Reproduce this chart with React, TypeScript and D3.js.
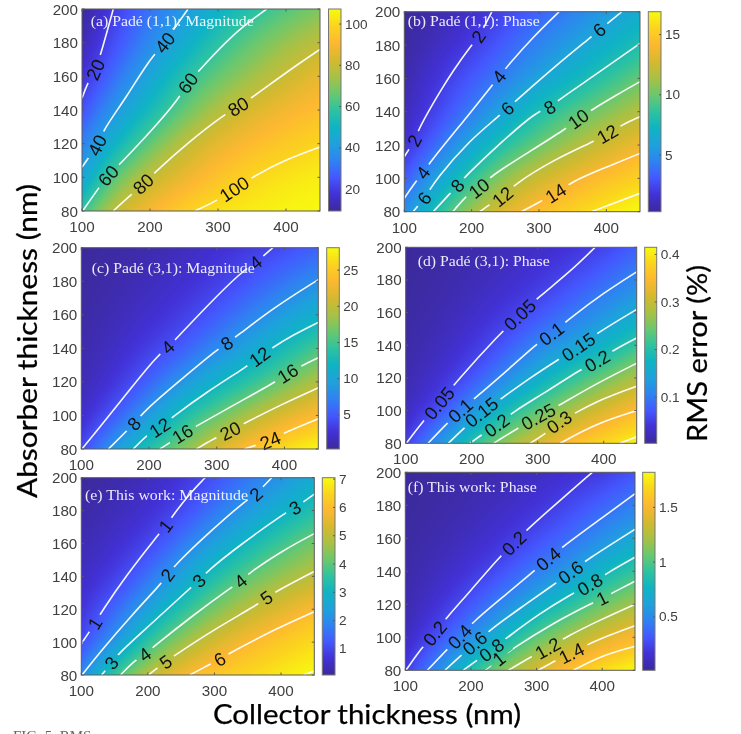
import React, { useMemo } from "react";
import * as d3 from "d3";

type Pt = [number, number];
type Contour = [number, Pt[]];
type Label = [string, number, number];

const xTicks = [100, 200, 300, 400];
const yTicks = [80, 100, 120, 140, 160, 180, 200];

const parulaStops = ["#3c2a9c", "#4231d6", "#4458ff", "#2f83f2", "#1ea2dc", "#0fb4c4", "#2ec3a0", "#6ac86e", "#a9c145", "#d5b92f", "#fdb831", "#fbd41e", "#f8fb0f"];

// ---------- (a)
const aGrid = [
  [9.4, 20.7, 31, 39, 49, 56.5, 63.5, 69],
  [12.5, 24, 35, 46, 58, 66, 73, 78.5],
  [17.5, 30, 44, 57, 66, 73, 81, 87],
  [23.5, 39.5, 52, 65, 76.5, 84.5, 89.5, 93],
  [33.5, 49, 66, 79, 87, 92, 96, 99.5],
  [42, 67, 80, 87, 94, 100, 103, 105],
  [59, 81, 90, 98, 102.5, 104.5, 106, 107],
];
const aContours: Contour[] = [
  [20, [[100, 147], [108, 156], [120, 164], [129, 175], [146, 200]]],
  [40, [[100, 106], [112, 113], [122.5, 119], [131, 128], [166, 148], [197.5, 169], [222, 180], [234, 187.5], [256, 200]]],
  [60, [[101, 80], [125, 94], [138.7, 101], [156, 108], [205, 129], [239, 145], [256, 156], [273.5, 164], [322.6, 185.5], [371.5, 200]]],
  [80, [[146, 80], [173, 90], [190, 96], [210, 104], [254, 120], [308, 137], [330, 142], [352, 148], [406, 164], [450, 176]]],
  [100, [[266, 80], [298, 86], [324, 93], [350, 100], [396, 110], [450, 118]]],
];
const aLabels: Label[] = [["20", 120, 164], ["40", 122.5, 119], ["40", 222, 180], ["60", 138.7, 101], ["60", 256, 156], ["80", 190, 96], ["80", 330, 142], ["100", 324, 93]];

// ---------- (b)
const bGrid = [
  [0.3, 0.8, 1.4, 2.4, 3.4, 4.4, 5.5, 6.6],
  [0.4, 1.1, 2, 3.3, 4.5, 5.7, 6.9, 8],
  [0.7, 1.9, 3.1, 4.3, 5.9, 7.2, 8.5, 9.9],
  [1, 2.3, 4.1, 6.2, 8.1, 9.4, 10.6, 11.7],
  [1.5, 3.6, 6.4, 8.3, 9.9, 11.4, 12.6, 13.7],
  [3.1, 6.1, 8.6, 11.1, 12.7, 13.7, 14.7, 15.4],
  [5, 8.3, 11.4, 13.2, 14.6, 15.4, 16.3, 16.9],
];
const bContours: Contour[] = [
  [2, [[100, 113], [115, 122.6], [121, 129], [135.6, 140], [153, 152], [173, 165], [200, 180], [210, 185], [220, 192], [230, 200]]],
  [4, [[100, 88], [113, 96], [128, 103.4], [140.6, 111], [197.5, 139], [227, 154], [240.6, 161], [254.5, 168], [291.6, 185], [330, 200]]],
  [6, [[113, 80], [130, 88], [148, 100], [197.5, 123], [239.6, 137], [253, 142], [267, 147], [326, 168], [378, 185], [389.6, 189], [405, 194], [423, 200]]],
  [8, [[143, 80], [168, 91], [179, 95.6], [190, 101], [242, 121], [296, 140], [316, 142.6], [328.7, 147], [390.6, 164], [450, 181]]],
  [10, [[172, 80], [195, 91], [211, 94], [227, 101], [281.7, 115], [341, 130], [358.4, 135.6], [378, 141], [415, 150], [450, 158]]],
  [12, [[212, 80], [229, 85], [246, 89], [262, 96], [321, 111], [380.7, 122], [401.5, 126.6], [423, 132], [450, 137]]],
  [14, [[274, 80], [301.5, 86], [325, 91], [348.5, 98], [395.5, 106], [450, 115]]],
  [16, [[378, 80], [450, 91]]],
];
const bLabels: Label[] = [["2", 115, 122.6], ["2", 210, 185], ["4", 128, 103.4], ["4", 240.6, 161], ["6", 130, 88], ["6", 253, 142], ["6", 389.6, 189], ["8", 179, 95.6], ["8", 316, 142.6], ["10", 211, 94], ["10", 358.4, 135.6], ["12", 246, 89], ["12", 401.5, 126.6], ["14", 325, 91]];

// ---------- (c)
const cGrid = [
  [0.3, 0.6, 1, 1.6, 2.4, 3.2, 4.2, 5.5],
  [0.4, 0.9, 1.5, 2.3, 3.2, 4.8, 6.4, 8],
  [0.6, 1.3, 2.2, 3.3, 5, 7.2, 9.3, 11.3],
  [0.9, 1.9, 3.3, 5, 7.7, 10, 12.7, 15.2],
  [1.2, 2.6, 5.3, 8.7, 11.5, 14, 16.6, 19.3],
  [1.9, 4.8, 9, 13.2, 16.3, 19.2, 22, 23.8],
  [4, 9.1, 13.7, 17.4, 21.3, 24.4, 26.5, 28],
];
const cContours: Contour[] = [
  [4, [[101, 80], [127.5, 93], [176.7, 118], [211, 135], [228, 140.6], [240.6, 146], [285, 165], [336.5, 185.7], [357.6, 191], [383, 200]]],
  [8, [[140, 80], [178, 95], [196, 104], [255, 124], [299.6, 139], [315, 143], [329, 147], [383, 164], [450, 181]]],
  [12, [[176.7, 80], [201, 90], [216, 92.7], [231, 98], [285, 114], [344, 129], [363.5, 135], [380.7, 140], [412.7, 148], [450, 155.5]]],
  [16, [[216, 80], [235.7, 85], [249.5, 89], [267.6, 93], [324, 106], [383, 119], [405, 125], [422.5, 129], [450, 134.4]]],
  [20, [[270, 80], [295, 86], [320, 90.7], [344, 96], [398, 107], [450, 116.5]]],
  [24, [[341, 80], [379, 85], [403, 90.3], [450, 98]]],
];
const cLabels: Label[] = [["4", 228, 140.6], ["4", 357.6, 191], ["8", 178, 95], ["8", 315, 143], ["12", 216, 92.7], ["12", 363.5, 135], ["16", 249.5, 89], ["16", 405, 125], ["20", 320, 90.7], ["24", 379, 85]];

// ---------- (d)
const dGrid = [
  [0.003, 0.006, 0.012, 0.02, 0.028, 0.038, 0.054, 0.078],
  [0.004, 0.009, 0.018, 0.028, 0.04, 0.06, 0.084, 0.11],
  [0.006, 0.014, 0.027, 0.042, 0.066, 0.092, 0.124, 0.155],
  [0.009, 0.021, 0.04, 0.069, 0.107, 0.14, 0.168, 0.21],
  [0.014, 0.032, 0.063, 0.108, 0.163, 0.207, 0.245, 0.285],
  [0.022, 0.054, 0.123, 0.187, 0.235, 0.28, 0.318, 0.352],
  [0.05, 0.126, 0.204, 0.267, 0.313, 0.358, 0.385, 0.41],
];
const dContours: Contour[] = [
  [0.05, [[101, 80], [125, 93], [151, 104.5], [175, 117], [243, 147.3], [273, 158.6], [301, 169.4], [349, 185], [387, 200]]],
  [0.1, [[134, 80], [159.6, 91], [183, 100], [207.6, 108.6], [258, 126], [298.5, 141], [321, 147], [349, 156.5], [399.5, 172], [450, 185]]],
  [0.15, [[164.6, 80], [185, 88], [215, 99], [245.5, 107.5], [288, 120], [334, 132], [361.6, 139], [389.4, 147.3], [450, 162]]],
  [0.2, [[197.5, 80], [217.6, 86], [238, 91], [263, 99.4], [313.6, 111.6], [364, 125], [390.4, 130.4], [414.6, 137], [450, 144.5]]],
  [0.25, [[232.8, 80], [273, 90], [301, 96.3], [329, 102.4], [389.4, 116.7], [450, 129]]],
  [0.3, [[288.4, 80], [308.6, 85], [332.8, 93], [354, 98], [399.5, 107.6], [450, 115]]],
  [0.35, [[334, 80], [389.4, 92.3], [450, 100]]],
  [0.4, [[424.7, 80], [450, 84]]],
];
const dLabels: Label[] = [["0.05", 151, 104.5], ["0.05", 273, 158.6], ["0.1", 183, 100], ["0.1", 321, 147], ["0.15", 215, 99], ["0.15", 361.6, 139], ["0.2", 238, 91], ["0.2", 390.4, 130.4], ["0.25", 301, 96.3], ["0.3", 332.8, 93]];

// ---------- (e)
const eGrid = [
  [0.08, 0.22, 0.4, 0.7, 1.15, 1.65, 2.15, 2.7],
  [0.17, 0.35, 0.6, 0.95, 1.6, 2.25, 2.8, 3.35],
  [0.3, 0.55, 0.9, 1.65, 2.4, 3.1, 3.75, 4.3],
  [0.45, 0.8, 1.55, 2.45, 3.35, 4.05, 4.55, 4.95],
  [0.7, 1.4, 2.4, 3.4, 4.3, 4.95, 5.5, 5.97],
  [1, 2, 3.6, 4.6, 5.4, 5.95, 6.3, 6.6],
  [1.95, 3.7, 5, 5.8, 6.25, 6.5, 6.8, 7.05],
];
const eContours: Contour[] = [
  [1, [[100, 99], [120.5, 111.4], [130.5, 118.5], [168, 140.8], [213, 164], [226.7, 170.6], [235.7, 176], [263, 190.5], [286, 200]]],
  [2, [[101, 80], [128, 94], [178, 117.4], [218, 134.7], [229.7, 140.8], [240.7, 147], [298, 169], [348, 186.4], [362.4, 190], [386, 200]]],
  [3, [[130.5, 80], [145.6, 87.4], [155.6, 93], [203, 110.3], [263, 132.7], [276.8, 137.3], [288, 142.8], [338, 159], [408.5, 179.3], [421, 181.7], [431, 184.4], [450, 190]]],
  [4, [[159, 80], [180.6, 89], [195.6, 92.5], [208, 97], [268, 116.4], [323.3, 132.7], [339.4, 137], [351, 141.8], [403.5, 156], [450, 166]]],
  [5, [[200.6, 80], [226.7, 88], [240.7, 92], [298, 107.3], [363.4, 122.5], [378.4, 127], [396, 131.6], [450, 143]]],
  [6, [[263, 80], [290.8, 86], [308, 89.5], [325.8, 94], [393.4, 108.3], [450, 118.5]]],
  [7, [[433.5, 80], [450, 82.4]]],
];
const eLabels: Label[] = [["1", 120.5, 111.4], ["1", 226.7, 170.6], ["2", 229.7, 140.8], ["2", 362.4, 190], ["3", 145.6, 87.4], ["3", 276.8, 137.3], ["3", 421, 181.7], ["4", 195.6, 92.5], ["4", 339.4, 137], ["5", 226.7, 88], ["5", 378.4, 127], ["6", 308, 89.5]];

// ---------- (f)
const fGrid = [
  [0.012, 0.025, 0.045, 0.07, 0.11, 0.15, 0.2, 0.3],
  [0.016, 0.035, 0.07, 0.11, 0.16, 0.25, 0.35, 0.45],
  [0.025, 0.06, 0.11, 0.17, 0.27, 0.37, 0.52, 0.66],
  [0.04, 0.1, 0.17, 0.28, 0.43, 0.56, 0.78, 0.93],
  [0.06, 0.15, 0.3, 0.47, 0.69, 0.88, 1.07, 1.2],
  [0.09, 0.26, 0.5, 0.76, 1.04, 1.22, 1.4, 1.53],
  [0.2, 0.52, 0.87, 1.16, 1.39, 1.58, 1.71, 1.81],
];
const fContours: Contour[] = [
  [0.2, [[101, 80], [125, 93.7], [145, 102.4], [164, 112.5], [198.5, 127.7], [241.7, 148], [265.6, 157], [287.4, 166], [330.6, 181.2], [385, 200]]],
  [0.4, [[133.5, 80], [160.4, 91.3], [183, 100.4], [203.6, 109.5], [249.3, 124.6], [295, 139.8], [318, 147.5], [343.3, 156], [391.5, 170], [450, 187]]],
  [0.6, [[160.4, 80], [183, 88.3], [206, 96.4], [229, 104.4], [274.7, 117.6], [325.5, 131.7], [352, 139.4], [376.3, 147], [450, 165.5]]],
  [0.8, [[188.4, 80], [211, 86.7], [231.5, 92.3], [257, 100.4], [305, 114.5], [351, 125.7], [381.4, 132], [409.3, 139.4], [450, 148.5]]],
  [1, [[221.4, 80], [243, 86.9], [264.5, 93.3], [320.4, 107.5], [384, 120.6], [400, 123.6], [414.4, 126.7], [450, 134]]],
  [1.2, [[257, 80], [295, 89], [317, 93.3], [345.8, 100.4], [396.6, 110.5], [450, 120]]],
  [1.4, [[302.6, 80], [330.6, 86.3], [353.4, 90.3], [376.3, 95.4], [411.8, 101.4], [450, 107]]],
  [1.6, [[356, 80], [401.7, 89.3], [450, 94.5]]],
];
const fLabels: Label[] = [["0.2", 145, 102.4], ["0.2", 265.6, 157], ["0.4", 183, 100.4], ["0.4", 318, 147.5], ["0.6", 206, 96.4], ["0.6", 352, 139.4], ["0.8", 231.5, 92.3], ["0.8", 381.4, 132], ["1", 243, 86.9], ["1", 400, 123.6], ["1.2", 317, 93.3], ["1.4", 353.4, 90.3]];

const colorbarTicks = [
  [20, 40, 60, 80, 100],
  [5, 10, 15],
  [5, 10, 15, 20, 25],
  [0.1, 0.2, 0.3, 0.4],
  [1, 2, 3, 4, 5, 6, 7],
  [0.5, 1, 1.5],
];
const colorRanges: Pt[] = [[9.4, 107.3], [0.3, 16.9], [0.3, 28.1], [0.003, 0.415], [0.08, 7.05], [0.012, 1.82]];
const titles = ["(a) Padé (1,1): Magnitude", "(b) Padé (1,1): Phase", "(c) Padé (3,1): Magnitude", "(d) Padé (3,1): Phase", "(e) This work: Magnitude", "(f) This work: Phase"];
const grids = [aGrid, bGrid, cGrid, dGrid, eGrid, fGrid];
const contours = [aContours, bContours, cContours, dContours, eContours, fContours];
const labels = [aLabels, bLabels, cLabels, dLabels, eLabels, fLabels];

// Layout in pixels: plot box, colorbar box, title placement
const layout = [
  { l: 82, r: 320, t: 9, b: 211, cl: 328.5, cr: 341, tx: 90.7, ty: 26, tw: 163 },
  { l: 404.3, r: 640, t: 11.7, b: 211.7, cl: 648.3, cr: 661, tx: 407.7, ty: 26, tw: 132 },
  { l: 81.3, r: 318.3, t: 247.7, b: 449, cl: 326.7, cr: 339.3, tx: 91.7, ty: 272.7, tw: 163 },
  { l: 405.7, r: 636.7, t: 247.3, b: 443.3, cl: 644.7, cr: 656.7, tx: 417.7, ty: 265.7, tw: 132 },
  { l: 81.3, r: 314.3, t: 477.7, b: 675, cl: 322.3, cr: 335, tx: 85, ty: 500, tw: 163 },
  { l: 405.3, r: 635, t: 472.3, b: 670.3, cl: 642.7, cr: 655, tx: 407.7, ty: 492.3, tw: 129 },
];

const colorT = d3.scaleLinear<string>()
  .domain(parulaStops.map((_, i) => i / (parulaStops.length - 1)))
  .range(parulaStops)
  .interpolate(d3.interpolateRgb);

function heatURL(grid: number[][], w: number, h: number, range: Pt) {
  const c = document.createElement("canvas");
  c.width = w; c.height = h;
  const ctx = c.getContext("2d")!;
  const img = ctx.createImageData(w, h);
  const st = d3.scaleLinear().domain(range).range([0, 1]).clamp(true);
  const rows = grid.map((r) => d3.interpolateBasis(r));
  for (let px = 0; px < w; px++) {
    const tx = (px + 0.5) / w;
    const col = d3.interpolateBasis(rows.map((f) => f(tx)));
    for (let py = 0; py < h; py++) {
      const rgb = d3.rgb(colorT(st(col((py + 0.5) / h))));
      const k = (py * w + px) * 4;
      img.data[k] = rgb.r; img.data[k + 1] = rgb.g; img.data[k + 2] = rgb.b; img.data[k + 3] = 255;
    }
  }
  ctx.putImageData(img, 0, 0);
  return c.toDataURL();
}

function cbarURL(h: number) {
  const c = document.createElement("canvas");
  c.width = 1; c.height = h;
  const ctx = c.getContext("2d")!;
  for (let py = 0; py < h; py++) {
    ctx.fillStyle = colorT(1 - (py + 0.5) / h);
    ctx.fillRect(0, py, 1, 1);
  }
  return c.toDataURL();
}

function labelAngle(pts: Pt[], x: number, y: number, sx: (v: number) => number, sy: (v: number) => number) {
  let best = 0, bestD = Infinity;
  pts.forEach((p, i) => {
    const d = Math.hypot(sx(p[0]) - sx(x), sy(p[1]) - sy(y));
    if (d < bestD) { bestD = d; best = i; }
  });
  const a = pts[Math.max(0, best - 1)], b = pts[Math.min(pts.length - 1, best + 1)];
  return (Math.atan2(sy(b[1]) - sy(a[1]), sx(b[0]) - sx(a[0])) * 180) / Math.PI;
}

const GRAY = "#404040";
const BOX = "#5a5a5a";

function Panel({ index }: { index: number }) {
  const g = layout[index];
  const x = d3.scaleLinear().domain([100, 450]).range([g.l, g.r]);
  const y = d3.scaleLinear().domain([80, 200]).range([g.b, g.t]);
  const cs = d3.scaleLinear().domain(colorRanges[index]).range([g.b, g.t]);
  const w = Math.round(g.r - g.l), h = Math.round(g.b - g.t);
  const heat = useMemo(() => heatURL(grids[index], w, h, colorRanges[index]), [index, w, h]);
  const bar = useMemo(() => cbarURL(h), [h]);
  const line = d3.line<Pt>().x((d) => x(d[0])).y((d) => y(d[1])).curve(d3.curveBasis);
  const maskId = `gaps${index}`;
  const clipId = `clip${index}`;
  const fs = 18.5;
  const placed = labels[index].map(([text, lx, ly]) => {
    const level = +text;
    const entry = contours[index].find((c) => c[0] === level)!;
    const angle = labelAngle(entry[1], lx, ly, x, y);
    const len = text.length * fs * 0.556 - (text.includes(".") ? fs * 0.278 : 0);
    return { text, px: x(lx), py: y(ly), angle, len };
  });
  return (
    <g>
      <defs>
        <clipPath id={clipId}><rect x={g.l} y={g.t} width={g.r - g.l} height={g.b - g.t} /></clipPath>
        <mask id={maskId} maskUnits="userSpaceOnUse" x={g.l - 2} y={g.t - 2} width={g.r - g.l + 4} height={g.b - g.t + 4}>
          <rect x={g.l - 2} y={g.t - 2} width={g.r - g.l + 4} height={g.b - g.t + 4} fill="#fff" />
          {placed.map((p, i) => (
            <rect key={i} x={-p.len / 2 - 5} y={-12} width={p.len + 10} height={24} fill="#000"
              transform={`translate(${p.px},${p.py}) rotate(${p.angle})`} />
          ))}
        </mask>
      </defs>
      <image href={heat} x={g.l} y={g.t} width={g.r - g.l} height={g.b - g.t} preserveAspectRatio="none" />
      <g clipPath={`url(#${clipId})`}>
        <g mask={`url(#${maskId})`}>
          {contours[index].map(([lev, pts]) => (
            <path key={lev} d={line(pts)!} fill="none" stroke="#fff" strokeWidth={1.6} opacity={0.95} />
          ))}
        </g>
      </g>
      {placed.map((p, i) => (
        <text key={i} transform={`translate(${p.px},${p.py}) rotate(${p.angle})`} textAnchor="middle" dominantBaseline="central"
          fontFamily="'Liberation Sans'" fontSize={fs} fill="#111">{p.text}</text>
      ))}
      <text x={g.tx} y={g.ty} fontFamily="'Liberation Serif'" fontSize={14.5} fill="#fff" fillOpacity={0.9} textLength={g.tw} lengthAdjust="spacingAndGlyphs">{titles[index]}</text>
      <rect x={g.l} y={g.t} width={g.r - g.l} height={g.b - g.t} fill="none" stroke={BOX} strokeWidth={1} />
      {xTicks.map((t) => (
        <g key={t}>
          <line x1={x(t)} x2={x(t)} y1={g.b} y2={g.b - 2.5} stroke={BOX} />
          <line x1={x(t)} x2={x(t)} y1={g.t} y2={g.t + 2.5} stroke={BOX} />
          <text x={x(t)} y={g.b + 15.5} textAnchor="middle" dominantBaseline="central" fontFamily="'Liberation Sans'" fontSize={15.2} fill={GRAY}>{t}</text>
        </g>
      ))}
      {yTicks.map((t) => (
        <g key={t}>
          <line x1={g.l} x2={g.l + 2.5} y1={y(t)} y2={y(t)} stroke={BOX} />
          <line x1={g.r} x2={g.r - 2.5} y1={y(t)} y2={y(t)} stroke={BOX} />
          <text x={g.l - 4} y={y(t)} textAnchor="end" dominantBaseline="central" fontFamily="'Liberation Sans'" fontSize={15.2} fill={GRAY}>{t}</text>
        </g>
      ))}
      <image href={bar} x={g.cl} y={g.t} width={g.cr - g.cl} height={g.b - g.t} preserveAspectRatio="none" />
      <rect x={g.cl} y={g.t} width={g.cr - g.cl} height={g.b - g.t} fill="none" stroke="#777" strokeWidth={1} />
      {colorbarTicks[index].map((t) => (
        <g key={t}>
          <line x1={g.cr} x2={g.cr - 2} y1={cs(t)} y2={cs(t)} stroke={BOX} />
          <text x={g.cr + 4} y={cs(t)} dominantBaseline="central" fontFamily="'Liberation Sans'" fontSize={13.6} fill={GRAY}>{t}</text>
        </g>
      ))}
    </g>
  );
}

export default function App() {
  const big = { fontFamily: "Lato", fontSize: 27, fill: "#000", stroke: "#000", strokeWidth: 0.25 };
  return (
    <svg width={741} height={734} viewBox="0 0 741 734" style={{ position: "absolute", left: 0, top: 0, background: "#fff" }}>
      <defs>
        <filter id="soft" x="0" y="0" width="100%" height="100%" colorInterpolationFilters="sRGB">
          <feGaussianBlur stdDeviation="0.45" />
        </filter>
      </defs>
      <g filter="url(#soft)">
        <rect width={741} height={734} fill="#fff" />
        {layout.map((_, i) => <Panel key={i} index={i} />)}
        <text transform="translate(37,498) rotate(-90)" textLength={314} lengthAdjust="spacingAndGlyphs" {...big}>Absorber thickness (nm)</text>
        <text x={213} y={724} textLength={308} lengthAdjust="spacingAndGlyphs" {...big}>Collector thickness (nm)</text>
        <text transform="translate(707,442) rotate(-90)" textLength={177} lengthAdjust="spacingAndGlyphs" {...big}>RMS error (%)</text>
        <text x={13} y={741} fontFamily="'Liberation Serif'" fontSize={15} fill="#666">FIG. 5. RMS</text>
      </g>
    </svg>
  );
}
